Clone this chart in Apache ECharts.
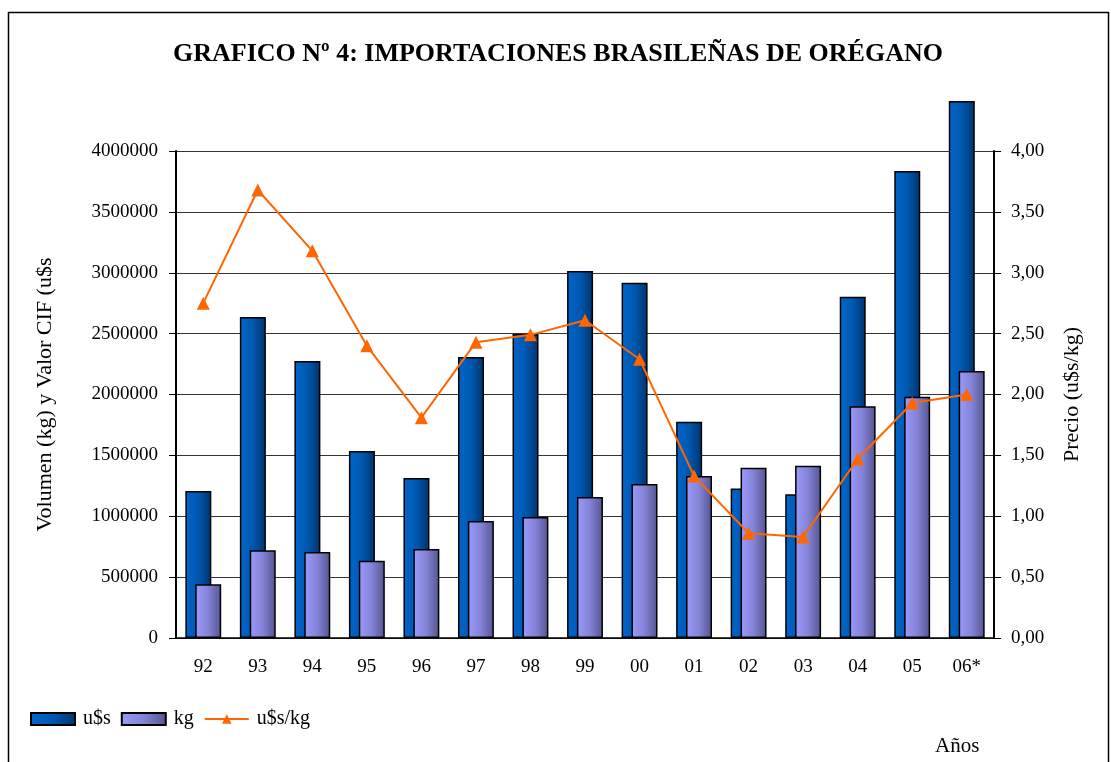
<!DOCTYPE html>
<html>
<head>
<meta charset="UTF-8">
<title>Importaciones brasileñas de orégano</title>
<style>
  html, body { margin: 0; padding: 0; background: #fff; }
  #main { width: 1111px; height: 762px; }
</style>
</head>
<body>
<div id="main"></div>
<script src="https://cdn.jsdelivr.net/npm/echarts@6/dist/echarts.min.js"></script>
<script>
// años
var years = ['92', '93', '94', '95', '96', '97', '98', '99', '00', '01', '02', '03', '04', '05', '06*'];
// valor CIF (u$s)
var valorUss = [1207000, 2636000, 2275000, 1536000, 1314000, 2308000, 2497000, 3014000, 2918000, 1777000, 1228000, 1181000, 2803000, 3836000, 4410000];
// volumen (kg)
var volumenKg = [441000, 720000, 706000, 635000, 731000, 961000, 994000, 1158000, 1265000, 1331000, 1399000, 1415000, 1903000, 1982000, 2193000];
// precio (u$s/kg)
var precio = [2.75, 3.68, 3.18, 2.40, 1.81, 2.43, 2.49, 2.61, 2.29, 1.33, 0.86, 0.83, 1.47, 1.93, 2.00];

var serif = "'Liberation Serif', 'DejaVu Serif', serif";

var myChart = echarts.init(document.getElementById('main'));

var option = {
    backgroundColor: '#fff',
    animation: false,
    textStyle: { fontFamily: serif, color: '#000' },
    grid: { left: 176, right: 117, top: 151, bottom: 124, containLabel: false },
    legend: {
        left: 30, top: 709, padding: 0,
        itemWidth: 44, itemHeight: 12, itemGap: 10,
        textStyle: { fontFamily: serif, fontSize: 20, color: '#000', padding: [0, 0, 0, 3] },
        data: [
            { name: 'u$s', icon: 'rect' },
            { name: 'kg', icon: 'rect' },
            { name: 'u$s/kg' }
        ]
    },
    xAxis: {
        type: 'category',
        data: years,
        axisLine: { lineStyle: { color: '#000', width: 1.5 } },
        axisTick: { length: 7, lineStyle: { color: '#000' } },
        axisLabel: { fontFamily: serif, fontSize: 19, color: '#000', margin: 20 }
    },
    yAxis: [
        {
            type: 'value', min: 0, max: 4000000, interval: 500000,
            position: 'left',
            name: 'Volumen (kg) y Valor CIF (u$s',
            nameLocation: 'middle', nameRotate: 90, nameGap: 120,
            nameTextStyle: { fontFamily: serif, fontSize: 22, color: '#000' },
            axisLine: { show: true, lineStyle: { color: '#000', width: 2 } },
            axisTick: { show: true, length: 7, lineStyle: { color: '#000' } },
            axisLabel: {
                fontFamily: serif, fontSize: 19, color: '#000', margin: 18,
                formatter: function (v) { return String(v); }
            },
            splitLine: { show: true, lineStyle: { color: '#333', width: 1 } }
        },
        {
            type: 'value', min: 0, max: 4, interval: 0.5,
            position: 'right',
            name: 'Precio (u$s/kg)',
            nameLocation: 'middle', nameRotate: 90, nameGap: 67,
            nameTextStyle: { fontFamily: serif, fontSize: 22, color: '#000' },
            axisLine: { show: true, lineStyle: { color: '#000', width: 2 } },
            axisTick: { show: true, length: 7, lineStyle: { color: '#000' } },
            axisLabel: {
                fontFamily: serif, fontSize: 19, color: '#000', margin: 17,
                formatter: function (v) { return v.toFixed(2).replace('.', ','); }
            },
            splitLine: { show: false }
        }
    ],
    series: [
        {
            name: 'u$s', type: 'bar', yAxisIndex: 0,
            data: valorUss,
            barWidth: 26, barGap: '-62%',
            clip: false,
            itemStyle: {
                color: new echarts.graphic.LinearGradient(0, 0, 1, 0, [
                    { offset: 0, color: '#0066CC' },
                    { offset: 0.5, color: '#0058B0' },
                    { offset: 1, color: '#00336E' }
                ]),
                borderColor: '#000', borderWidth: 1.5
            }
        },
        {
            name: 'kg', type: 'bar', yAxisIndex: 0,
            data: volumenKg,
            barWidth: 26,
            itemStyle: {
                color: new echarts.graphic.LinearGradient(0, 0, 1, 0, [
                    { offset: 0, color: '#9A9AFC' },
                    { offset: 0.5, color: '#8383D6' },
                    { offset: 1, color: '#545490' }
                ]),
                borderColor: '#000', borderWidth: 1.5
            }
        },
        {
            name: 'u$s/kg', type: 'line', yAxisIndex: 1,
            data: precio,
            symbol: 'triangle', symbolSize: 13,
            lineStyle: { color: '#FF6600', width: 2 },
            itemStyle: { color: '#FF6600' },
            z: 5
        }
    ],
    graphic: [
        {
            type: 'rect',
            shape: { x: 8.5, y: 12.5, width: 1100, height: 760 },
            style: { fill: 'none', stroke: '#000', lineWidth: 1.5 },
            silent: true
        },
        {
            type: 'text', left: 173, top: 41,
            style: {
                text: 'GRAFICO Nº 4: IMPORTACIONES BRASILEÑAS DE ORÉGANO',
                fontFamily: serif, fontSize: 26, fontWeight: 'bold', fill: '#000'
            }
        },
        {
            type: 'text', left: 935, top: 736,
            style: { text: 'Años', fontFamily: serif, fontSize: 21, fill: '#000' }
        }
    ]
};

myChart.setOption(option);
</script>
</body>
</html>
